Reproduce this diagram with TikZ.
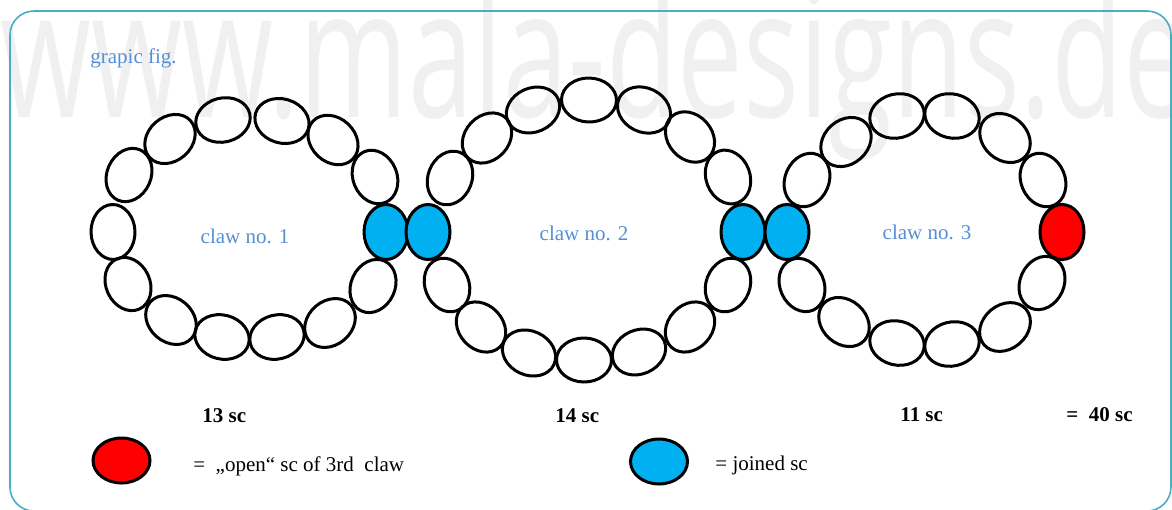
\documentclass[tikz,border=0pt]{standalone}
\usepackage{fontspec}
\setmainfont{Liberation Serif}
\newfontfamily\wmfont{Open Sans}
\usepackage{tikz}
\usetikzlibrary{shapes.geometric}
\definecolor{mdblue}{HTML}{558ED5}
\definecolor{mdcyan}{HTML}{00B0F0}
\definecolor{mdred}{HTML}{FF0000}
\definecolor{mdframe}{HTML}{4BACC6}
\definecolor{mdmark}{HTML}{F0F0F0}
\tikzset{
  sc/.style={ellipse, draw=black, line width=1.5pt, minimum width=27.5pt,
             minimum height=22pt, inner sep=0pt},
  joinsc/.style={sc, fill=mdcyan},
  opensc/.style={sc, fill=mdred},
  keysc/.style={minimum width=28.5pt, minimum height=22.5pt},
  lbl/.style={font=\fontsize{10.5}{12}\selectfont, text=mdblue, inner sep=0pt},
  cnt/.style={font=\fontsize{10.5}{12}\selectfont\bfseries, inner sep=0pt, anchor=base west},
  txt/.style={font=\fontsize{10.5}{12}\selectfont, inner sep=0pt, anchor=base west},
}

\begin{document}
\begin{tikzpicture}[x=0.5pt,y=-0.5pt]
\useasboundingbox (0,0) rectangle (1172,509);

% ---------- watermark and frame ----------
\node[anchor=base west,inner sep=0pt,text=mdmark] (wm) at (0,117)
   {\scalebox{0.65}[1]{\wmfont\fontsize{90}{90}\selectfont www.mala-designs.de}};
\draw[mdframe,line width=0.8pt,rounded corners=12pt] (10,11) rectangle (1171,511);
\node[lbl,anchor=base west] (title) at (90,63) {grapic fig.};

% ---------- claw 1 ----------
\foreach \x/\y [count=\i] in {223/120,282/121,170/139,333/140,129/175,375/177,113/232,
                               128/284,171/320,222/337,277/337,330/323,373/286}
  \node[sc,rotate={atan2(228.5-\y,\x-249.5)-90}] (a\i) at (\x,\y) {};
\node[joinsc,rotate=90] (aj) at (386,232) {};
\node[lbl,anchor=base] (la) at (245,243) {claw no. 1};

% ---------- claw 2 ----------
\foreach \x/\y [count=\i] in {450/178,487/138,533/110,589/100,644/110,690/137,728/177,
                               728/285,690/327,639/352,584/360,529/353,481/327,447/285}
  \node[sc,rotate={atan2(230-\y,\x-585.5)-90}] (b\i) at (\x,\y) {};
\node[joinsc,rotate=90] (bj1) at (428,232) {};
\node[joinsc,rotate=90] (bj2) at (743,232) {};
\node[lbl,anchor=base] (lb) at (584,240) {claw no. 2};

% ---------- claw 3 ----------
\foreach \x/\y [count=\i] in {807/180,846/142,897/116,952/116,1005/138,1043/180,
                               1042/283,1005/327,952/344,897/343,844/322,802/285}
  \node[sc,rotate={atan2(230-\y,\x-924.5)-90}] (c\i) at (\x,\y) {};
\node[joinsc,rotate=90] (cj) at (787,232) {};
\node[opensc,rotate=90] (co) at (1062,232) {};
\node[lbl,anchor=base] (lc) at (927,239) {claw no. 3};

% ---------- counts ----------
\node[cnt] (n1) at (202,422) {13 sc};
\node[cnt] (n2) at (555,422) {14 sc};
\node[cnt] (n3) at (900,421) {11 sc};
\node[cnt] (nt) at (1066,421) {=\ \ 40 sc};

% ---------- key ----------
\node[opensc,keysc] (kopen) at (121.5,460.5) {};
\node[txt] (topen) at (193,471) {=\ \ „open“ sc of 3rd\ \ claw};
\node[joinsc,keysc] (kjoin) at (659,461.5) {};
\node[txt] (tjoin) at (715,470) {= joined sc};
\end{tikzpicture}
\end{document}
